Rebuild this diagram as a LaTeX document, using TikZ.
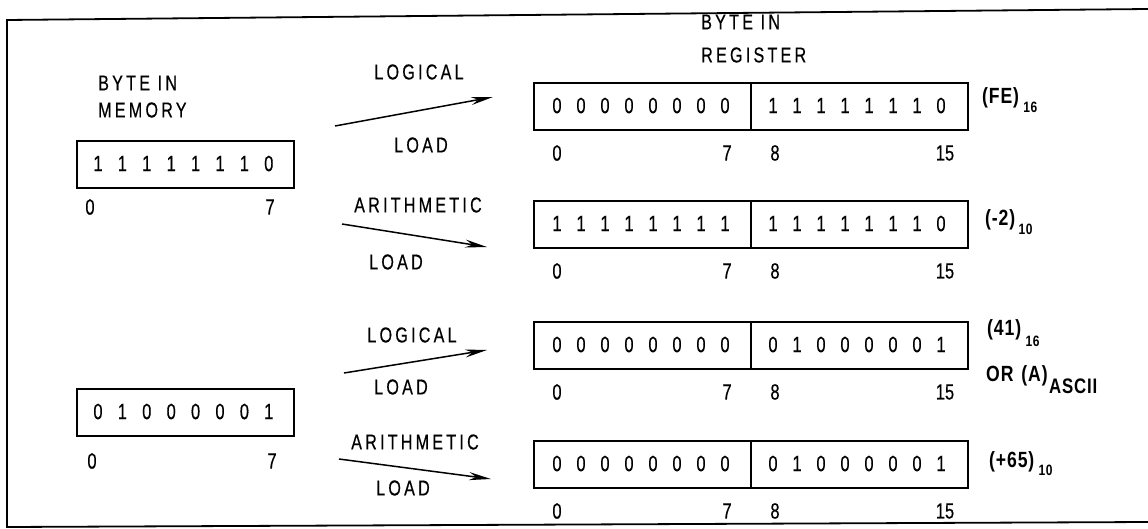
\documentclass[tikz,border=0pt]{standalone}
\usepackage{fontspec}
\setmainfont[FakeStretch=0.75,FakeBold=0.4]{Liberation Sans}
\newfontfamily\wordfont[FakeStretch=0.75,FakeBold=0.4,LetterSpace=15]{Liberation Sans}
\newfontfamily\notefont[FakeStretch=0.8,LetterSpace=4]{Liberation Sans}
\usetikzlibrary{arrows.meta}
\begin{document}
\begin{tikzpicture}[x=1pt,y=-1pt,
  half/.style={draw,line width=1.8pt,minimum width=#1,minimum height=47pt,inner sep=0pt,anchor=north west},
  bit/.style={inner sep=0pt,font=\fontsize{22}{22}\selectfont},
  idx/.style={inner sep=0pt,font=\fontsize{22}{22}\selectfont},
  word/.style={inner sep=0pt,font=\wordfont\fontsize{21.5}{21.5}\selectfont},
  note/.style={inner sep=0pt,anchor=west,font=\notefont\bfseries\fontsize{22}{22}\selectfont},
  sub/.style={inner sep=0pt,anchor=west,font=\notefont\bfseries\fontsize{15}{15}\selectfont},
  ld/.style={line width=1.5pt,-{Stealth[length=22pt,width=8pt]}},
  frame/.style={line width=1.8pt}]
\useasboundingbox (0,0) rectangle (1148,529);
\fill[white] (0,0) rectangle (1148,529);
% frame
\coordinate (fTR) at (1148,9);
\coordinate (fTL) at (7,20);
\coordinate (fBL) at (7,527);
\coordinate (fBR) at (1148,522);
\draw[frame] (fTR) -- (fTL) -- (fBL) -- (fBR);

% headings
\node[word,anchor=west] (hm1) at (98,83) {BYTE IN};
\node[word,anchor=west] (hm2) at (98,110) {MEMORY};
\node[word,anchor=west] (hr1) at (701,22) {BYTE IN};
\node[word,anchor=west] (hr2) at (701,55) {REGISTER};

% memory bytes
\node[half=217pt] (m1) at (76,140) {};
\node[half=217pt] (m2) at (76,388) {};
\foreach \b [count=\k from 0] in {1,1,1,1,1,1,1,0}
  \node[bit] (m1b\k) at ({98+24.4*\k},163.5) {\b};
\foreach \b [count=\k from 0] in {0,1,0,0,0,0,0,1}
  \node[bit] (m2b\k) at ({98+24.4*\k},411.5) {\b};
\node[idx] (m1i0) at (90,207) {0};
\node[idx] (m1i7) at (270,207) {7};
\node[idx] (m2i0) at (92,461) {0};
\node[idx] (m2i7) at (272,461) {7};

% registers
\foreach \r/\t/\L/\R in {1/82/{0,0,0,0,0,0,0,0}/{1,1,1,1,1,1,1,0},
                         2/200/{1,1,1,1,1,1,1,1}/{1,1,1,1,1,1,1,0},
                         3/321/{0,0,0,0,0,0,0,0}/{0,1,0,0,0,0,0,1},
                         4/440/{0,0,0,0,0,0,0,0}/{0,1,0,0,0,0,0,1}}{
  \node[half=217pt] (r\r l) at (533,\t) {};
  \node[half=217pt] (r\r r) at (750,\t) {};
  \foreach \b [count=\k from 0] in \L
    \node[bit] (r\r lb\k) at ({557+24*\k},\t+23.5) {\b};
  \foreach \b [count=\k from 0] in \R
    \node[bit] (r\r rb\k) at ({773+24*\k},\t+23.5) {\b};
  \node[idx] (r\r i0) at (557,\t+71) {0};
  \node[idx] (r\r i7) at (727,\t+71) {7};
  \node[idx] (r\r i8) at (775,\t+71) {8};
  \node[idx] (r\r i15) at (945,\t+71) {15};
}

% annotations
\node[note] (n1) at (982,98) {(FE)};
\node[sub] (n1s) at (n1.east) [xshift=4pt,yshift=-9pt] {16};
\node[note] (n2) at (985,220) {(-2)};
\node[sub] (n2s) at (n2.east) [xshift=3pt,yshift=-9pt] {10};
\node[note] (n3) at (987,330) {(41)};
\node[sub] (n3s) at (n3.east) [xshift=4pt,yshift=-11pt] {16};
\node[note] (n3b) at (986,376) {OR\hspace{8pt}(A)};
\node[note,font=\notefont\bfseries\fontsize{21}{21}\selectfont] (n3bs) at (n3b.east) [xshift=1pt,yshift=-10pt] {ASCII};
\node[note] (n4) at (989,462) {(+65)};
\node[sub] (n4s) at (n4.east) [xshift=4pt,yshift=-8pt] {10};

% operation labels and arrows
\node[word] (op1a) at (419,72) {LOGICAL};
\node[word] (op1b) at (421,145) {LOAD};
\coordinate (a1s) at (335,126);
\coordinate (a1e) at (493,97);
\draw[ld] (a1s) -- (a1e);

\node[word] (op2a) at (418,205) {ARITHMETIC};
\node[word] (op2b) at (396,262) {LOAD};
\coordinate (a2s) at (342,224);
\coordinate (a2e) at (487,247);
\draw[ld] (a2s) -- (a2e);

\node[word] (op3a) at (412,335) {LOGICAL};
\node[word] (op3b) at (401,387) {LOAD};
\coordinate (a3s) at (344,373);
\coordinate (a3e) at (487,350);
\draw[ld] (a3s) -- (a3e);

\node[word] (op4a) at (415,442) {ARITHMETIC};
\node[word] (op4b) at (403,488) {LOAD};
\coordinate (a4s) at (339,459);
\coordinate (a4e) at (491,479);
\draw[ld] (a4s) -- (a4e);
\end{tikzpicture}
\end{document}
